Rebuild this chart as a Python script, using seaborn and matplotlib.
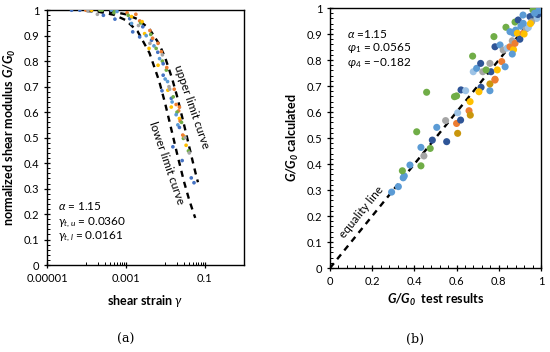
import numpy as np
import pandas as pd
import matplotlib
matplotlib.use("Agg")
import matplotlib.pyplot as plt
import seaborn as sns

# couleurs (palette Excel)
pal = {"b": "#4472C4", "o": "#ED7D31", "gr": "#A5A5A5", "y": "#FFC000",
       "lb": "#5B9BD5", "g": "#70AD47", "db": "#2F5597", "dy": "#C9960C",
       "vlb": "#9DC3E6"}

# courbes limites
strain_up = [1e-4, 2e-4, 5e-4, 1e-3, 2e-3, 4e-3, 7e-3, 0.01, 0.015, 0.02, 0.03, 0.04, 0.05, 0.06, 0.068]
g_up = [0.999, 0.997, 0.993, 0.984, 0.965, 0.926, 0.868, 0.814, 0.732, 0.663, 0.552, 0.470, 0.407, 0.357, 0.325]
strain_low = [1e-4, 2e-4, 5e-4, 1e-3, 2e-3, 4e-3, 7e-3, 0.01, 0.015, 0.02, 0.03, 0.04, 0.05, 0.058]
g_low = [0.997, 0.994, 0.982, 0.961, 0.917, 0.832, 0.723, 0.634, 0.520, 0.438, 0.328, 0.260, 0.214, 0.185]

# points d'essai (a)
strain_pts = [4.2e-5, 6.8e-5, 9.7e-5, 1.1e-4, 1.35e-4, 2.2e-4, 1.9e-4, 2.7e-4, 2.5e-4, 4.3e-4,
              5.3e-4, 5.3e-4, 5.0e-4, 6.0e-4, 1.08e-3, 1.15e-3, 1.26e-3, 1.4e-3, 1.8e-3, 1.4e-3,
              1.5e-3, 2.25e-3, 2.4e-3, 2.6e-3, 2.1e-3, 2.7e-3, 2.25e-3, 3.0e-3, 3.3e-3, 4.1e-3,
              4.3e-3, 4.5e-3, 4.1e-3, 4.8e-3, 5.2e-3, 3.9e-3, 6.6e-3, 5.9e-3, 6.5e-3, 8.0e-3,
              8.5e-3, 7.2e-3, 8.5e-3, 6.6e-3, 8.9e-3, 1.07e-2, 1.1e-2, 8.9e-3, 1.0e-2, 8.3e-3,
              1.15e-2, 1.17e-2, 1.3e-2, 1.7e-2, 1.43e-2, 1.5e-2, 1.43e-2, 2.3e-2, 2.2e-2, 2.0e-2,
              1.9e-2, 2.3e-2, 2.4e-2, 2.1e-2, 2.3e-2, 1.57e-2, 2.9e-2, 3.0e-2, 2.8e-2, 2.7e-2,
              3.9e-2, 4.1e-2, 4.6e-2, 5.4e-2, 1.25e-2, 1.6e-2, 1.9e-2, 2.6e-2, 3.4e-2, 3.2e-2]
g_pts = [1.0, 1.0, 1.0, 0.998, 1.0, 1.0, 0.984, 0.98, 1.0, 1.0,
         1.0, 0.965, 0.99, 0.995, 0.99, 0.98, 0.967, 0.948, 0.984, 0.975,
         0.915, 0.958, 0.95, 0.955, 0.94, 0.935, 0.895, 0.908, 0.9, 0.92,
         0.905, 0.882, 0.87, 0.89, 0.86, 0.85, 0.87, 0.85, 0.835, 0.837,
         0.825, 0.81, 0.8, 0.784, 0.79, 0.765, 0.775, 0.745, 0.73, 0.684,
         0.72, 0.686, 0.69, 0.69, 0.654, 0.64, 0.62, 0.62, 0.605, 0.6,
         0.59, 0.575, 0.565, 0.55, 0.54, 0.464, 0.497, 0.505, 0.51, 0.41,
         0.448, 0.44, 0.342, 0.323, 0.7, 0.66, 0.63, 0.56, 0.47, 0.5]
c_pts = ["b", "b", "o", "gr", "y", "g", "gr", "b", "g", "lb",
         "g", "b", "g", "lb", "o", "g", "b", "lb", "o", "y",
         "b", "o", "g", "y", "gr", "b", "b", "y", "lb", "o",
         "g", "b", "gr", "o", "lb", "y", "o", "g", "b", "o",
         "gr", "lb", "g", "y", "b", "g", "o", "b", "lb", "b",
         "lb", "y", "gr", "o", "b", "lb", "y", "o", "o", "g",
         "lb", "y", "o", "lb", "b", "b", "g", "y", "o", "b",
         "g", "gr", "b", "b", "gr", "g", "o", "g", "y", "gr"]

# points (b)
g_test = [0.292, 0.324, 0.347, 0.352, 0.343, 0.379, 0.431, 0.445, 0.431, 0.475,
          0.411, 0.485, 0.506, 0.553, 0.548, 0.600, 0.619, 0.605, 0.605, 0.659,
          0.665, 0.458, 0.590, 0.600, 0.621, 0.643, 0.664, 0.716, 0.758, 0.706,
          0.782, 0.763, 0.679, 0.695, 0.714, 0.724, 0.740, 0.758, 0.814, 0.793,
          0.830, 0.676, 0.777, 0.782, 0.806, 0.821, 0.840, 0.853, 0.870, 0.864,
          0.834, 0.853, 0.870, 0.880, 0.864, 0.888, 0.877, 0.900, 0.916, 0.877,
          0.892, 0.915, 0.905, 0.930, 0.940, 0.948, 0.962, 0.975, 0.995, 0.990,
          0.980, 0.956, 0.985, 0.970, 0.990, 0.950, 0.920, 0.916, 0.758, 0.782]
g_calc = [0.292, 0.313, 0.347, 0.354, 0.374, 0.396, 0.393, 0.431, 0.464, 0.460,
          0.524, 0.492, 0.541, 0.486, 0.567, 0.556, 0.569, 0.518, 0.597, 0.605,
          0.588, 0.676, 0.659, 0.662, 0.685, 0.682, 0.640, 0.695, 0.682, 0.678,
          0.726, 0.755, 0.755, 0.768, 0.787, 0.755, 0.762, 0.787, 0.794, 0.762,
          0.774, 0.815, 0.890, 0.851, 0.858, 0.838, 0.846, 0.851, 0.840, 0.823,
          0.926, 0.909, 0.903, 0.915, 0.874, 0.903, 0.864, 0.880, 0.903, 0.946,
          0.954, 0.973, 0.930, 0.920, 0.925, 0.967, 0.992, 0.997, 0.992, 0.980,
          0.960, 0.947, 0.975, 0.980, 0.990, 0.940, 0.900, 0.941, 0.708, 0.723]
c_test = ["lb", "lb", "lb", "lb", "g", "lb", "g", "gr", "lb", "g",
          "g", "db", "lb", "db", "gr", "o", "db", "dy", "vlb", "o",
          "dy", "g", "g", "g", "db", "vlb", "y", "db", "lb", "y",
          "o", "db", "vlb", "lb", "db", "gr", "g", "gr", "o", "y",
          "lb", "g", "g", "db", "lb", "gr", "vlb", "o", "y", "lb",
          "g", "lb", "lb", "lb", "gr", "y", "o", "db", "o", "g",
          "db", "lb", "lb", "gr", "vlb", "db", "g", "g", "vlb", "lb",
          "vlb", "gr", "db", "lb", "lb", "y", "y", "lb", "dy", "o"]

df_a = pd.DataFrame({"strain": strain_pts, "G": g_pts, "c": c_pts})
df_b = pd.DataFrame({"test": g_test, "calc": g_calc, "c": c_test})

sns.set_style("white")
plt.rcParams["font.family"] = ["Lato", "DejaVu Sans"]
plt.rcParams["mathtext.fontset"] = "custom"
plt.rcParams["mathtext.rm"] = "Lato"
plt.rcParams["mathtext.it"] = "Lato:italic"
plt.rcParams["mathtext.bf"] = "Lato:style=italic:weight=bold"
plt.rcParams["mathtext.fallback"] = "stixsans"
plt.rcParams["text.color"] = "black"
plt.rcParams["axes.labelcolor"] = "black"
plt.rcParams["xtick.color"] = "black"
plt.rcParams["ytick.color"] = "black"

fs = 8.5
fig = plt.figure(figsize=(5.5, 3.52), dpi=100)
ax1 = fig.add_axes([0.0855, 0.247, 0.358, 0.724])
ax2 = fig.add_axes([0.600, 0.2386, 0.3836, 0.7386])

# ---- (a)
ax1.plot(strain_up, g_up, color="k", ls=(0, (2.6, 2.2)), lw=1.7, zorder=2)
ax1.plot(strain_low, g_low, color="k", ls=(0, (2.6, 2.2)), lw=1.7, zorder=2)
sns.scatterplot(data=df_a, x="strain", y="G", hue="c", palette=pal, s=7,
                edgecolor="none", legend=False, ax=ax1, zorder=3)
ax1.set_xscale("log")
ax1.set_xlim(1e-5, 1)
ax1.set_ylim(0, 1)
ax1.set_xticks([1e-5, 1e-3, 1e-1])
ax1.set_xticklabels(["0.00001", "0.001", "0.1"])
ax1.set_xticks([k * 1e-4 for k in range(1, 10)] + [k * 1e-2 for k in range(1, 10)], minor=True)
ax1.set_xticklabels([], minor=True)
ax1.set_yticks(np.arange(0, 1.01, 0.1))
ax1.set_yticklabels(["0", "0.1", "0.2", "0.3", "0.4", "0.5", "0.6", "0.7", "0.8", "0.9", "1"])
ax1.set_yticks(np.arange(0, 1.001, 0.02), minor=True)
ax1.set_xlabel(r"shear strain $\gamma$", fontsize=9, fontweight="bold", labelpad=7)
ax1.set_ylabel(r"normalized shear modulus $\mathbf{G/G_0}$", fontsize=9, fontweight="bold", labelpad=4)
ax1.text(1.9e-5, 0.215, r"$\alpha$ = 1.15", fontsize=fs)
ax1.text(1.9e-5, 0.158, r"$\gamma_{t,u}$ = 0.0360", fontsize=fs)
ax1.text(1.9e-5, 0.101, r"$\gamma_{t,l}$ = 0.0161", fontsize=fs)
ax1.text(0.047, 0.62, "upper limit curve", fontsize=fs, rotation=-71, ha="center", va="center")
ax1.text(0.0108, 0.40, "lower limit curve", fontsize=fs, rotation=-71, ha="center", va="center")

# ---- (b)
ax2.plot([0, 1], [0, 1], color="k", ls=(0, (2.6, 2.2)), lw=1.7, zorder=2)
sns.scatterplot(data=df_b, x="test", y="calc", hue="c", palette=pal, s=26,
                edgecolor="none", legend=False, ax=ax2, zorder=3)
ax2.set_xlim(0, 1)
ax2.set_ylim(0, 1)
ax2.set_xticks(np.arange(0, 1.01, 0.2))
ax2.set_xticklabels(["0", "0.2", "0.4", "0.6", "0.8", "1"])
ax2.set_xticks(np.arange(0, 1.001, 0.04), minor=True)
ax2.set_yticks(np.arange(0, 1.01, 0.1))
ax2.set_yticklabels(["0", "0.1", "0.2", "0.3", "0.4", "0.5", "0.6", "0.7", "0.8", "0.9", "1"])
ax2.set_yticks(np.arange(0, 1.001, 0.02), minor=True)
ax2.set_xlabel(r"$\mathbf{G/G_0}$  test results", fontsize=9, fontweight="bold", labelpad=4)
ax2.set_ylabel(r"$\mathbf{G/G_0}$ calculated", fontsize=9, fontweight="bold", labelpad=4)
ax2.text(0.08, 0.9, r"$\alpha$ =1.15", fontsize=fs, va="center")
ax2.text(0.08, 0.845, r"$\varphi_1$ = 0.0565", fontsize=fs, va="center")
ax2.text(0.08, 0.79, r"$\varphi_4$ = $-$0.182", fontsize=fs, va="center")
ax2.text(0.15, 0.215, "equality line", fontsize=fs, rotation=51, ha="center", va="center")

for ax in (ax1, ax2):
    for sp in ax.spines.values():
        sp.set_visible(True)
        sp.set_color("black")
        sp.set_linewidth(1.0)
    ax.tick_params(which="major", direction="inout", length=5, width=0.9, labelsize=8,
                   color="black", pad=3)
    ax.tick_params(which="minor", direction="in", length=2.5, width=0.7, color="black")
    ax.tick_params(axis="both", which="both", bottom=True, left=True, top=False, right=False)

fig.text(0.228, 0.025, "(a)", fontsize=9, family="DejaVu Serif", ha="center")
fig.text(0.755, 0.025, "(b)", fontsize=9, family="DejaVu Serif", ha="center")

fig.savefig("out.png", dpi=100)
